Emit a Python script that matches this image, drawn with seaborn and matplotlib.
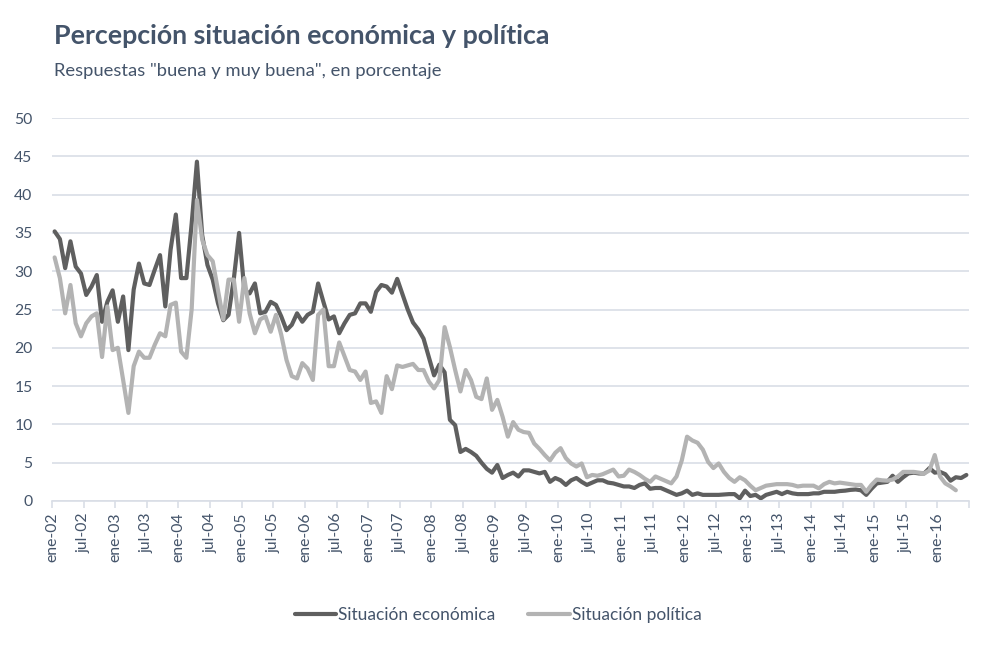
import numpy as np
import pandas as pd
import seaborn as sns
import matplotlib.pyplot as plt

# monthly values, ene-02 onwards (percent answering "buena y muy buena")
economica = [
    35.2, 34.2, 30.4, 33.9, 30.6, 29.7, 26.9, 28.0, 29.5, 23.4,
    26.0, 27.5, 23.4, 26.7, 19.7, 27.6, 31.0, 28.4, 28.2, 30.2,
    32.1, 25.4, 32.8, 37.4, 29.1, 29.1, 36.2, 44.3, 34.7, 30.8,
    28.9, 25.8, 23.6, 24.3, 29.0, 35.0, 27.5, 27.1, 28.4, 24.5,
    24.7, 26.0, 25.6, 24.1, 22.3, 23.0, 24.5, 23.4, 24.3, 24.7,
    28.4, 26.0, 23.7, 24.1, 21.9, 23.2, 24.3, 24.5, 25.8, 25.8,
    24.7, 27.3, 28.2, 28.0, 27.2, 29.0, 27.0, 25.0, 23.3, 22.4,
    21.2, 18.8, 16.4, 17.8, 16.8, 10.6, 9.9, 6.4, 6.8, 6.4,
    5.9, 5.0, 4.2, 3.7, 4.7, 3.0, 3.4, 3.7, 3.2, 4.0,
    4.0, 3.8, 3.6, 3.8, 2.5, 3.0, 2.7, 2.1, 2.7, 3.0,
    2.5, 2.1, 2.4, 2.7, 2.7, 2.4, 2.3, 2.1, 1.9, 1.9,
    1.7, 2.1, 2.3, 1.6, 1.7, 1.7, 1.4, 1.1, 0.8, 1.0,
    1.35, 0.8, 1.0, 0.8, 0.8, 0.8, 0.8, 0.85, 0.9, 0.9,
    0.35, 1.35, 0.65, 0.8, 0.35, 0.8, 1.0, 1.2, 0.9, 1.2,
    1.0, 0.9, 0.9, 0.9, 1.0, 1.0, 1.2, 1.2, 1.2, 1.3,
    1.35, 1.45, 1.5, 1.4, 0.8, 1.6, 2.3, 2.4, 2.5, 3.3,
    2.5, 3.1, 3.6, 3.7, 3.6, 3.6, 4.3, 3.7, 3.8, 3.5,
    2.65, 3.1, 3.0, 3.4,
]

politica = [
    31.8, 29.1, 24.5, 28.2, 23.2, 21.5, 23.2, 24.1, 24.5, 18.8,
    25.4, 19.7, 20.0, 15.8, 11.5, 17.6, 19.5, 18.7, 18.7, 20.4,
    21.9, 21.5, 25.6, 25.9, 19.5, 18.7, 25.0, 39.3, 34.1, 32.1,
    31.3, 27.5, 23.7, 28.9, 28.9, 23.4, 29.1, 24.5, 21.9, 23.7,
    24.1, 22.1, 24.3, 21.7, 18.4, 16.3, 16.0, 18.0, 17.3, 15.8,
    24.3, 25.0, 17.6, 17.6, 20.7, 18.9, 17.1, 16.9, 15.8, 16.9,
    12.8, 13.0, 11.5, 16.3, 14.6, 17.7, 17.5, 17.7, 17.9, 17.1,
    17.1, 15.6, 14.7, 15.8, 22.7, 20.1, 17.1, 14.3, 17.1, 15.8,
    13.6, 13.3, 16.0, 11.9, 13.2, 11.0, 8.4, 10.3, 9.3, 9.0,
    8.9, 7.5, 6.8, 6.0, 5.3, 6.3, 6.9, 5.6, 4.9, 4.5,
    4.9, 3.1, 3.4, 3.3, 3.5, 3.8, 4.1, 3.2, 3.3, 4.1,
    3.8, 3.4, 2.9, 2.5, 3.2, 2.9, 2.6, 2.3, 3.2, 5.3,
    8.4, 7.9, 7.6, 6.7, 5.1, 4.3, 4.9, 3.8, 3.0, 2.5,
    3.1, 2.7, 2.0, 1.4, 1.7, 2.0, 2.1, 2.2, 2.2, 2.2,
    2.1, 1.9, 2.0, 2.0, 2.0, 1.65, 2.2, 2.5, 2.3, 2.4,
    2.3, 2.2, 2.1, 2.1, 1.2, 2.1, 2.8, 2.7, 2.65, 2.8,
    3.2, 3.8, 3.8, 3.8, 3.7, 3.6, 4.0, 6.0, 3.2, 2.3,
    1.9, 1.4,
]

series = ["Situación económica", "Situación política"]
meses_abrev = {1: "ene", 7: "jul"}

TEXT = "#44546A"
GRID = "#D9DEE6"

n = len(economica)
df = pd.DataFrame({
    "mes": np.arange(n),
    series[0]: economica,
    series[1]: politica + [np.nan] * (n - len(politica)),
})
long = df.melt(id_vars="mes", var_name="serie", value_name="valor")

sns.set_theme(style="white")
plt.rcParams["font.family"] = ["Lato", "DejaVu Sans"]

fig = plt.figure(figsize=(9.96, 6.52), dpi=100)
ax = fig.add_axes([0.0522, 0.2316, 0.9207, 0.5874])

sns.lineplot(data=long, x="mes", y="valor", hue="serie", hue_order=series,
             palette=["#5f5f5f", "#b3b3b3"], linewidth=3, ax=ax)

# y axis
ax.set_ylim(0, 50)
ax.set_yticks(np.arange(0, 51, 5))
ax.yaxis.grid(True, color=GRID, linewidth=1.2)
ax.set_axisbelow(True)

# x axis: ticks on month boundaries every 6 months
fechas = pd.date_range("2002-01-01", periods=n + 1, freq="MS")
pos, labels = [], []
for k, f in enumerate(fechas):
    if f.month in meses_abrev:
        pos.append(k - 0.5)
        labels.append(f"{meses_abrev[f.month]}-{f.year % 100:02d}" if k < n else "")
ax.set_xlim(-0.5, n - 0.5)
ax.set_xticks(pos)
ax.set_xticklabels(labels, rotation=90)

ax.set_xlabel("")
ax.set_ylabel("")
for s in ["top", "right", "left"]:
    ax.spines[s].set_visible(False)
ax.spines["bottom"].set_color(GRID)
ax.spines["bottom"].set_linewidth(1.2)
ax.tick_params(axis="x", bottom=True, length=5, width=1.2, color=GRID,
               labelsize=11.3, labelcolor=TEXT, pad=3)
ax.tick_params(axis="y", left=False, labelsize=11.3, labelcolor=TEXT, pad=8)

sns.move_legend(ax, "center", bbox_to_anchor=(0.5, 0.057),
                bbox_transform=fig.transFigure, ncol=2,
                frameon=False, title=None, fontsize=12.5, handlelength=2.4,
                handletextpad=0.1, columnspacing=1.9, labelcolor=TEXT)

fig.text(0.054, 0.932, "Percepción situación económica y política",
         fontsize=19.3, fontweight="bold", color=TEXT)
fig.text(0.054, 0.884, 'Respuestas "buena y muy buena", en porcentaje',
         fontsize=13.2, color=TEXT)

fig.savefig("out.png", dpi=100)
